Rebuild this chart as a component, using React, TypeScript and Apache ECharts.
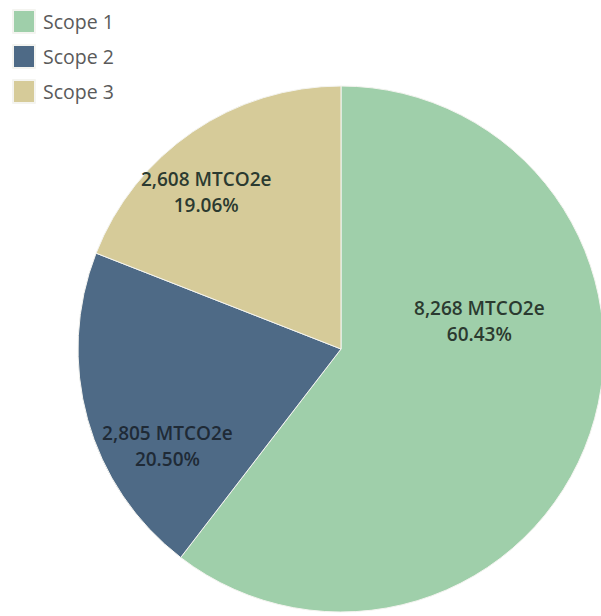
import React, { useEffect, useRef } from "react";
import * as echarts from "echarts";

const categories = ["Scope 1", "Scope 2", "Scope 3"];
const values = [8268, 2805, 2608];
const unit = "MTCO2e";
const colors = ["#9fcfaa", "#4e6a86", "#d6cb99"];
// label nudges (px) relative to the default inside position
const labelOffsets: [number, number][] = [[11, -71], [-44, 61], [-59, -46]];

export default function App() {
  const ref = useRef<HTMLDivElement>(null);
  useEffect(() => {
    if (!ref.current) return;
    const chart = echarts.init(ref.current, null, { renderer: "svg" });
    const total = values.reduce((a, b) => a + b, 0);
    chart.setOption({
      animation: false,
      backgroundColor: "#ffffff",
      legend: {
        orient: "vertical",
        left: 12,
        top: 9,
        padding: 0,
        itemWidth: 22,
        itemHeight: 23,
        itemGap: 10,
        icon: "rect",
        selectedMode: false,
        data: categories,
        textStyle: { fontFamily: "Open Sans", fontSize: 19.5, color: "#5a5a5a", padding: [0, 0, 0, 3] },
      },
      series: [
        {
          type: "pie",
          center: [341, 349],
          radius: 263,
          startAngle: 90,
          clockwise: true,
          avoidLabelOverlap: false,
          itemStyle: { borderColor: "#f4f4f0", borderWidth: 1 },
          label: {
            show: true,
            position: "inside",
            fontFamily: "Open Sans",
            fontSize: 19,
            fontWeight: 600,
            lineHeight: 26,
            color: "#2b3a30",
            formatter: (p: any) =>
              `${Number(p.value).toLocaleString("en-US")} ${unit}\n${((Number(p.value) / total) * 100).toFixed(2)}%`,
          },
          labelLine: { show: false },
          emphasis: { disabled: true },
          data: categories.map((name, i) => ({
            name,
            value: values[i],
            itemStyle: { color: colors[i] },
            label: { offset: labelOffsets[i], color: i === 1 ? "#1f2a36" : "#2b3a30" },
          })),
        },
      ],
    });
    return () => chart.dispose();
  }, []);
  return (
    <div
      ref={ref}
      style={{ position: "fixed", left: 0, top: 0, width: 601, height: 616 }}
    />
  );
}
